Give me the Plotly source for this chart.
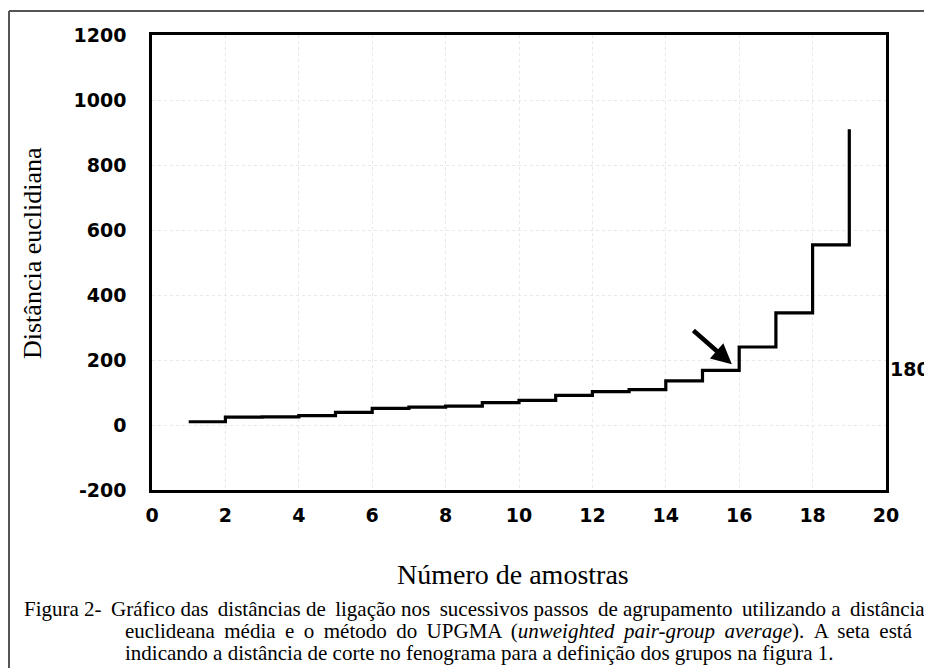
import plotly.graph_objects as go

# Data
steps = list(range(1, 20))
distances = [10, 24, 25, 29, 39, 51, 55, 58, 69, 76, 91, 103, 109, 136, 168, 240, 345, 554, 910]
x_ticks = list(range(0, 21, 2))
y_ticks = list(range(-200, 1201, 200))
cut_label = "180"
arrow_tail = (14.71, 295)
arrow_head = (15.8, 187)

O = 8  # page body margin in the browser
W, H = 932 - O, 668 - O
# plot area box in window pixels
WL, WR, WT, WB = 152, 886, 35, 490
L, R, T, B = WL - O, WR - O, WT - O, WB - O


def px(xp, yp):
    """window pixel -> paper coords"""
    xp -= O
    yp -= O
    return (xp - L) / (R - L), (B - yp) / (B - T)


def spread(text, every):
    """add a thin space after some word gaps to imitate justified text"""
    words = text.split(" ")
    out = words[0]
    for i, w in enumerate(words[1:], start=1):
        out += " " + ("\u2009" if i % every == 0 else "") + w
    return out


fig = go.Figure()
fig.add_trace(go.Scatter(
    x=steps, y=distances, mode="lines", line_shape="hv",
    line=dict(color="black", width=3.2), showlegend=False, hoverinfo="skip"))

tickfont = dict(family="DejaVu Sans", size=19, color="black", weight="bold")
axis_common = dict(showline=True, linewidth=2.5, linecolor="black", mirror=True,
                   showgrid=True, gridcolor="#e8e8e8", griddash="dot", gridwidth=1,
                   zeroline=False, ticks="", tickfont=tickfont)
fig.update_xaxes(range=[0, 20], tickvals=x_ticks, ticktext=[str(v) for v in x_ticks],
                 ticklabelstandoff=6, **axis_common)
fig.update_yaxes(range=[-200, 1200], tickvals=y_ticks, ticktext=[str(v) for v in y_ticks],
                 ticklabelstandoff=19, **axis_common)

ann = []
# arrow
ann.append(dict(x=arrow_head[0], y=arrow_head[1], ax=arrow_tail[0], ay=arrow_tail[1],
                xref="x", yref="y", axref="x", ayref="y", text="", showarrow=True,
                arrowhead=2, arrowsize=0.9, arrowwidth=4.5, arrowcolor="black"))
# 180 label
x, y = px(910, 369)
ann.append(dict(x=x, y=y, xref="paper", yref="paper", text=cut_label, showarrow=False,
                font=tickfont, xanchor="center", yanchor="middle"))
# y title
x, y = px(33, 253)
ann.append(dict(x=x, y=y, xref="paper", yref="paper", text="Distância euclidiana",
                textangle=-90, showarrow=False,
                font=dict(family="Liberation Serif", size=26, color="black"),
                xanchor="center", yanchor="middle"))
# x title
x, y = px(513, 574)
ann.append(dict(x=x, y=y, xref="paper", yref="paper", text="Número de amostras",
                showarrow=False,
                font=dict(family="Liberation Serif", size=28, color="black"),
                xanchor="center", yanchor="middle"))
# caption
cap_font = dict(family="Liberation Serif", size=21, color="black")
lines = [
    (22, 609, spread("Figura 2- Gráfico das distâncias de ligação nos sucessivos passos de agrupamento utilizando a distância", 2)),
    (123, 631, spread("euclideana média e o método do UPGMA (<i>unweighted pair-group average</i>). A seta está", 1)),
    (123, 653, "indicando a distância de corte no fenograma para a definição dos grupos na figura 1."),
]
for xp, yp, txt in lines:
    x, y = px(xp, yp)
    ann.append(dict(x=x, y=y, xref="paper", yref="paper", text=txt, showarrow=False,
                    font=cap_font, xanchor="left", yanchor="middle"))

# outer frame lines (top and left)
x0, y0 = px(9, 11)
x1, _ = px(940, 11)
_, y1 = px(9, 680)
shapes = [
    dict(type="line", xref="paper", yref="paper", x0=x0, y0=y0, x1=x1, y1=y0,
         line=dict(color="#555555", width=2)),
    dict(type="line", xref="paper", yref="paper", x0=x0, y0=y0, x1=x0, y1=y1,
         line=dict(color="#555555", width=2)),
]

fig.update_layout(width=W, height=H, margin=dict(l=L, r=W - R, t=T, b=H - B),
                  paper_bgcolor="white", plot_bgcolor="white",
                  annotations=ann, shapes=shapes, showlegend=False)
fig.write_html("out.html")
